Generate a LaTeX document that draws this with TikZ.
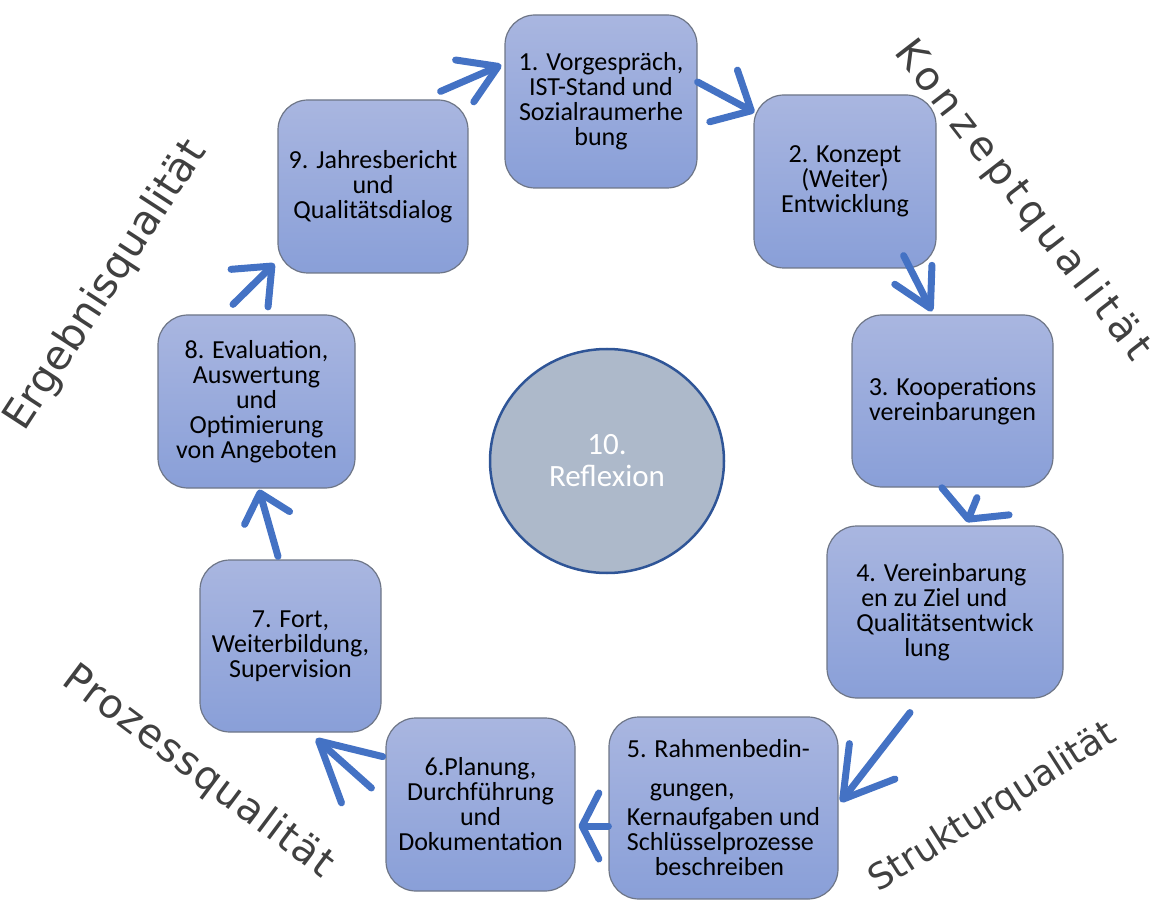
\documentclass[tikz,border=0pt]{standalone}
\usepackage{fontspec}
\setmainfont{Carlito}
\newfontfamily\qualfont{DejaVu Sans}
\newfontfamily\qualfontwide{DejaVu Sans}[LetterSpace=14]
\newfontfamily\qualfontmid{DejaVu Sans}[LetterSpace=4]
\usepackage{tikz}
\usetikzlibrary{arrows.meta,shapes.geometric}
\usepackage{xcolor}

\definecolor{arrowblue}{RGB}{68,114,196}
\definecolor{boxtop}{RGB}{169,182,224}
\definecolor{boxbottom}{RGB}{137,159,216}
\definecolor{boxline}{RGB}{110,118,135}
\definecolor{circlefill}{RGB}{173,185,202}
\definecolor{circleline}{RGB}{47,85,151}
\definecolor{qualgray}{RGB}{64,64,64}

\tikzset{
	stage/.style={rectangle, rounded corners=30pt, draw=boxline, line width=1.2pt, top color=boxtop, bottom color=boxbottom, align=center, inner sep=0pt, font=\fontsize{26}{25}\selectfont},
	flow/.style 2 args={draw=arrowblue, line width=7pt, line cap=round, -{Straight Barb[round, length=#1, width=#2]}},
	quality/.style={text=qualgray, inner sep=0pt}
}

\begin{document}
\begin{tikzpicture} [x=1pt, y=-1pt]
										\useasboundingbox (0, 0) rectangle (1160, 901);
										\node [stage, minimum width=192, minimum height=173] (b1) at (601, 101.5) {1. Vorgespräch,\\IST-Stand und\\Sozialraumerhe\\bung};
										\node [stage, minimum width=182, minimum height=173] (b2) at (845, 181.5) {2. Konzept\\(Weiter)\\Entwicklung};
										\node [stage, minimum width=201, minimum height=172] (b3) at (952.5, 401) {3. Kooperations\\vereinbarungen};
										\node [stage, minimum width=236, minimum height=172, align=left] (b4) at (945, 612) {4. Vereinbarung\\\hspace*{5pt}en zu Ziel und\\Qualitätsentwick\\\hspace*{48pt}lung};
										\node [stage, minimum width=229, minimum height=182, align=left] (b5) at (723.5, 808) {5. Rahmenbedin-\\[14pt]\hspace*{23pt}gungen,\\[4pt]Kernaufgaben und\\Schlüsselprozesse\\\hspace*{28pt}beschreiben};
										\node [stage, minimum width=189, minimum height=173] (b6) at (480.5, 804.5) {6.Planung,\\Durchführung\\und\\Dokumentation};
										\node [stage, minimum width=181, minimum height=172] (b7) at (290.5, 646) {7. Fort,\\Weiterbildung,\\Supervision};
										\node [stage, minimum width=197, minimum height=173] (b8) at (256.5, 401.5) {8. Evaluation,\\Auswertung\\und\\Optimierung\\von Angeboten};
										\node [stage, minimum width=190, minimum height=173] (b9) at (373, 186.5) {9. Jahresbericht\\und\\Qualitätsdialog};
										\node [ellipse, draw=circleline, line width=2.5pt, fill=circlefill, text=white, minimum width=234, minimum height=224, align=center, font=\fontsize{31}{32}\selectfont] (refl) at (607, 461) {10.\\Reflexion};
										\draw [flow={36.5pt}{45.6pt}] ([xshift=-28pt, yshift=8pt]b9.north east) -- ([xshift=-3pt, yshift=36.5pt]b1.west);
										\draw [flow={31.4pt}{58.6pt}] ([yshift=19.5pt]b1.east) -- ([xshift=1pt, yshift=-18pt]b2.north west);
										\draw [flow={37.6pt}{41.7pt}] ([xshift=-33pt, yshift=13pt]b2.south east) -- ([xshift=-20.5pt, yshift=3pt]b3.north);
										\draw [flow={19.2pt}{72.4pt}] ([xshift=24.5pt, yshift=-10pt]b3.south) -- ([xshift=22pt, yshift=3pt]b4.north);
										\draw [flow={48pt}{57.7pt}] ([xshift=-35pt, yshift=-14pt]b4.south) -- ([xshift=2pt, yshift=6pt]b5.east);
										\draw [flow={16.8pt}{66pt}] ([yshift=-18pt]b5.west) -- ([xshift=3pt, yshift=-21.5pt]b6.east);
										\draw [flow={58.3pt}{62pt}] ([xshift=-14pt, yshift=16.5pt]b6.west) -- ([xshift=25.5pt, yshift=-6pt]b7.south);
										\draw [flow={26pt}{46.8pt}] ([xshift=-12.5pt, yshift=3pt]b7.north) -- ([xshift=2.5pt, yshift=-1pt]b8.south);
										\draw [flow={31.4pt}{52.7pt}] ([xshift=-23.5pt, yshift=10pt]b8.north) -- ([xshift=-3pt, yshift=10pt]b9.south west);
										\node [quality, rotate=57, font=\qualfont\fontsize{41}{41}\selectfont] (ergebnis) at (106, 286) {Ergebnisqualität};
										\node [quality, rotate=-52.3, font=\qualfontwide\fontsize{40}{40}\selectfont] (konzept) at (1022, 201) {Konzeptqualität};
										\node [quality, rotate=-36.8, font=\qualfontmid\fontsize{40}{40}\selectfont] (prozess) at (198, 772) {Prozessqualität};
										\node [quality, rotate=32.5, font=\qualfont\fontsize{36}{36}\selectfont] (struktur) at (993, 808) {Strukturqualität};
									\end{tikzpicture}
\end{document}
